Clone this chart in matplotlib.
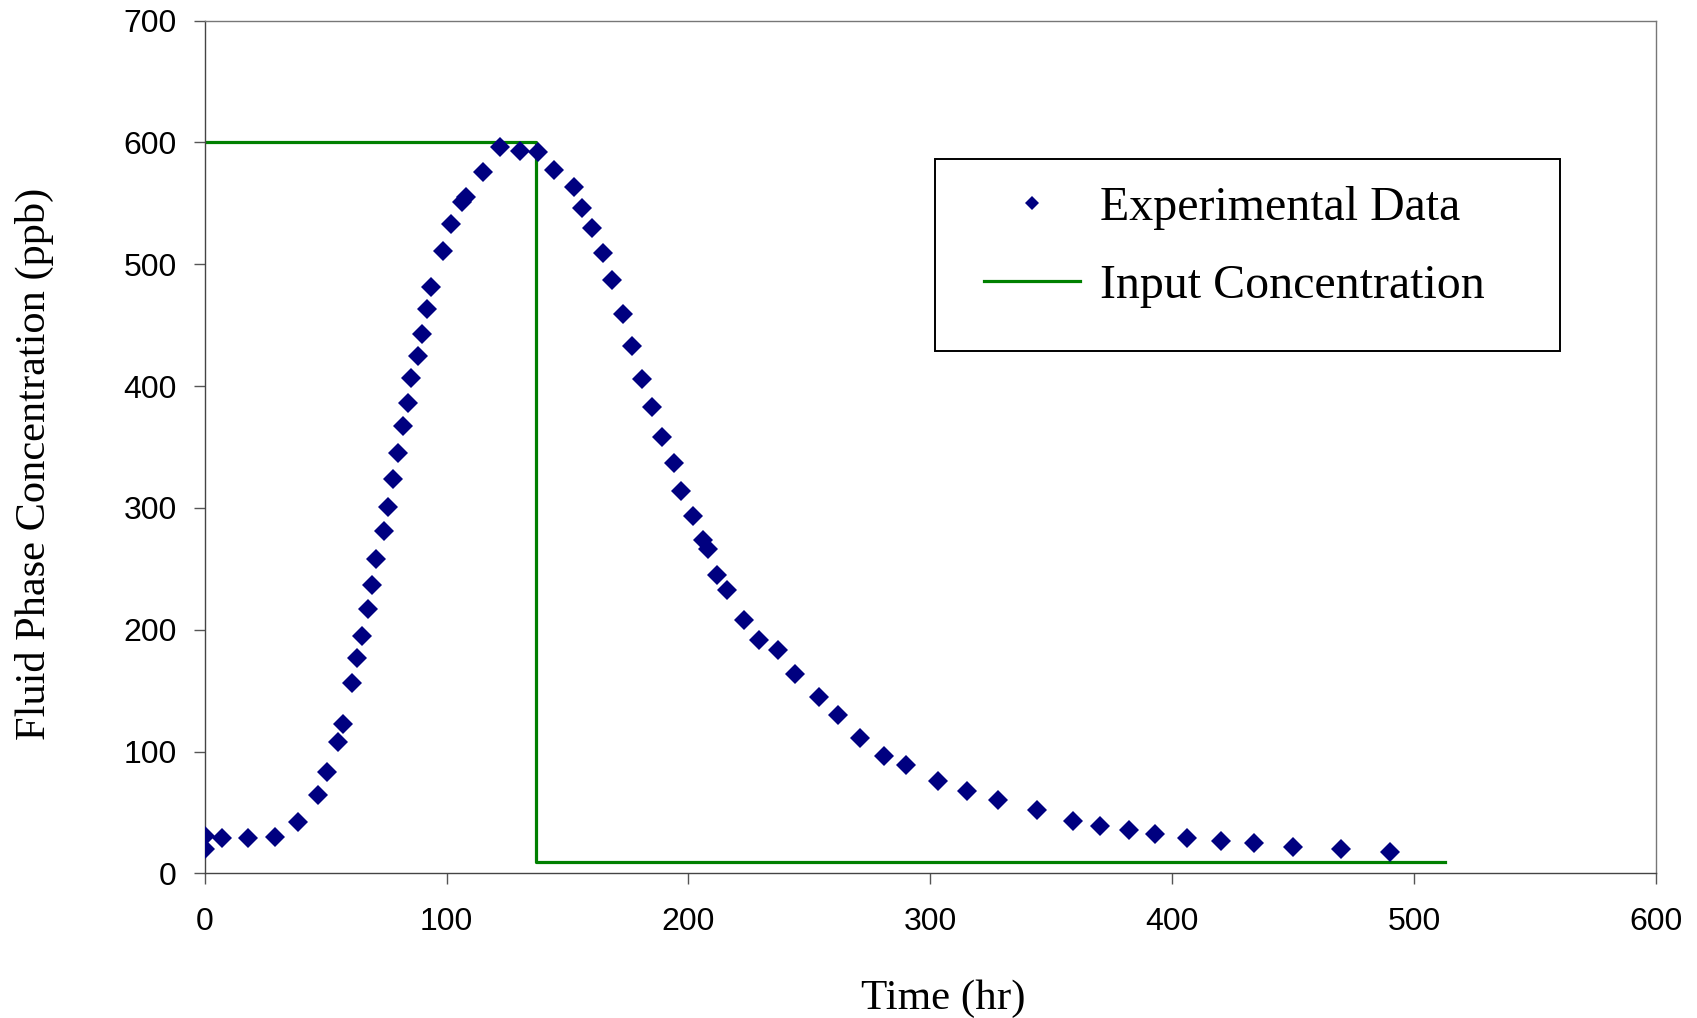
import numpy as np
import matplotlib.pyplot as plt
from matplotlib.patches import Rectangle

time_hr = [0, 0, 7, 18, 29, 38.5, 47, 50.5, 55, 57, 61, 63, 65, 67.5, 69, 71, 74, 76,
           78, 80, 82, 84, 85.5, 88, 90, 92, 93.5, 98.5, 102, 106.5, 108, 115, 122,
           130.5, 138, 144.5, 152.5, 156, 160, 164.5, 168.5, 173, 176.5, 181, 185,
           189, 194, 197, 202, 206, 208, 212, 216, 223, 229, 237, 244, 254, 262,
           271, 281, 290, 303, 315, 328, 344, 359, 370, 382, 393, 406, 420, 434,
           450, 470, 490]
conc_ppb = [20, 31, 29, 29, 30, 42, 64, 83, 108, 123, 156, 177, 195, 217, 237, 258,
            281, 301, 324, 345, 367, 386, 407, 425, 443, 463, 481, 511, 533, 551,
            555, 576, 596, 593, 592, 577, 563, 546, 530, 509, 487, 459, 433, 406,
            383, 358, 337, 314, 293, 274, 266, 245, 233, 208, 192, 183, 164, 145,
            130, 111, 96, 89, 76, 68, 60, 52, 43, 39, 36, 32, 29, 27, 25, 22, 20, 18]

# Step input concentration
input_time = [0, 137, 137, 513]
input_conc = [600, 600, 9, 9]

serif = ['Liberation Serif', 'DejaVu Serif']
plt.rcParams['font.family'] = ['Liberation Sans', 'DejaVu Sans']

fig = plt.figure(figsize=(16.97, 10.18), dpi=100)
ax = fig.add_axes([0.1206, 0.142, 0.8552, 0.8378])

ax.plot(time_hr, conc_ppb, linestyle='none', marker='D', ms=9.8, mew=0,
        color='#000080', label='Experimental Data', zorder=3)
ax.plot(input_time, input_conc, color='#008000', lw=2.3,
        label='Input Concentration', zorder=2)

ax.set_xlim(0, 600)
ax.set_ylim(0, 700)
ax.set_xticks(np.arange(0, 601, 100))
ax.set_yticks(np.arange(0, 701, 100))
ax.tick_params(direction='out', length=8, width=1, labelsize=23, color='#555555')
ax.tick_params(axis='x', pad=16)
ax.tick_params(axis='y', pad=12)
for s in ax.spines.values():
    s.set_color('#777777')
    s.set_linewidth(1)
for s in ['left', 'bottom']:
    ax.spines[s].set_color('#444444')

ax.set_xlabel('Time (hr)', fontsize=31, family=serif, labelpad=31)
ax.set_ylabel('Fluid Phase Concentration (ppb)', fontsize=30.5, family=serif, labelpad=50)
ax.xaxis.label.set_x(0.509)
ax.yaxis.label.set_y(0.480)

# legend frame drawn separately so the entries can sit where the reference has them
ax.add_patch(Rectangle((0.503, 0.613), 0.4306, 0.2247, transform=ax.transAxes,
                       fill=False, ec='black', lw=1.4, zorder=4))
leg = ax.legend(loc='center left', bbox_to_anchor=(0.5369, 0.7348), frameon=False,
                prop={'family': serif, 'size': 34.5}, handlelength=2.0,
                handletextpad=0.43, borderpad=0, labelspacing=0.71,
                markerscale=0.75, borderaxespad=0)

fig.savefig('out.png', dpi=100)
